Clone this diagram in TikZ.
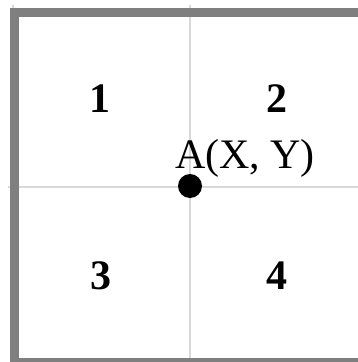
\documentclass[tikz,border=0pt]{standalone}
\usepackage{fontspec}
\setmainfont{Liberation Serif}
\definecolor{bordergray}{HTML}{7F7F7F}
\definecolor{gridgray}{HTML}{D9D9D9}
\begin{document}
\begin{tikzpicture}[x=1pt,y=-1pt,
  gridline/.style={draw=gridgray,line width=1.2pt},
  frame/.style={draw=bordergray,line width=9pt},
  quad/.style={anchor=base,inner sep=0pt,font=\fontsize{42}{48}\selectfont\bfseries},
  ptlabel/.style={anchor=base,inner sep=0pt,font=\fontsize{42}{48}\selectfont},
  ptdot/.style={circle,fill=black,inner sep=0pt,minimum size=24pt}]
\useasboundingbox (0,0) rectangle (358,362);
\coordinate (hl) at (8,187);
\coordinate (hr) at (358,187);
\coordinate (vt) at (190,5);
\coordinate (vb) at (190,362);
\coordinate (lt) at (13,5);
\coordinate (lb) at (13,362);
\draw[gridline] (hl) -- (hr);
\draw[gridline] (vt) -- (vb);
\draw[gridline] (lt) -- (lb);
\draw[frame] (380,12.5) -- (14.5,12.5) -- (14.5,362) -- (380,362);
\node[quad] (q1) at (99.5,112.5) {1};
\node[quad] (q2) at (277,112.5) {2};
\node[quad] (q3) at (101,289) {3};
\node[quad] (q4) at (276.5,289) {4};
\node[ptlabel] (lab) at (245,168) {A(X, Y)};
\node[ptdot] (A) at (190,186) {};
\end{tikzpicture}
\end{document}
